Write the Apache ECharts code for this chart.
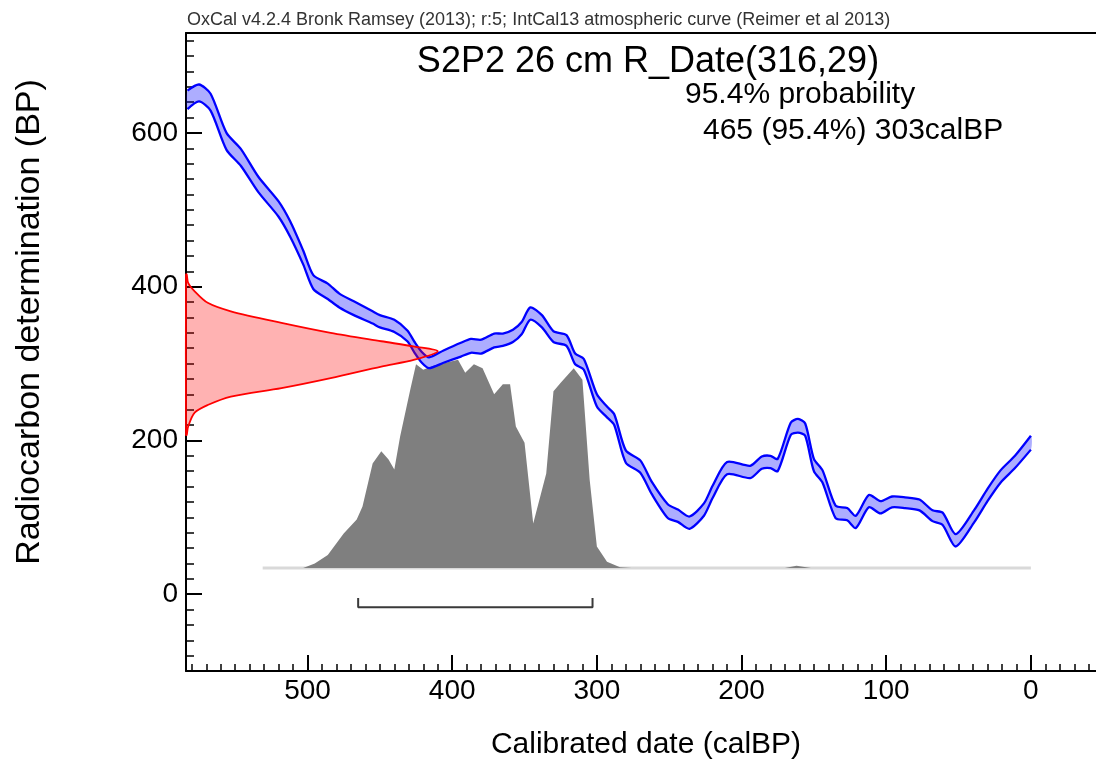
<!DOCTYPE html>
<html>
<head>
<meta charset="utf-8">
<script src="https://cdn.jsdelivr.net/npm/echarts@6/dist/echarts.min.js"></script>
<style>
  html, body { margin: 0; padding: 0; background: #fff; }
  #chart { width: 1096px; height: 765px; }
</style>
</head>
<body>
<div id="chart"></div>
<script>
// IntCal13 curve band: calBP and upper / lower radiocarbon age (BP)
const curveCal = [583, 575, 567, 556, 546, 534, 520, 512, 503, 496, 486, 478, 468, 455, 450, 440, 431, 426, 421, 416,
  406, 394, 387, 380, 371, 365, 358, 352, 346, 338, 330, 321, 315, 309, 300, 293, 288, 280, 270, 262,
  251, 244, 236, 226, 220, 210, 194, 186, 180, 175, 166, 161, 156, 150, 144, 135, 127, 121, 112, 104,
  96, 87, 77, 68, 61, 52, 39, 30, 21, 11, 0];
const curveHi = [655, 663, 651, 600, 579, 543, 511, 485, 447, 415, 404, 391, 381, 368, 363, 357, 343, 328, 315, 308,
  317, 327, 332, 331, 339, 339, 344, 354, 373, 363, 342, 337, 313, 306, 260, 244, 234, 187, 174, 146,
  117, 110, 101, 118, 141, 172, 167, 179, 180, 176, 223, 228, 222, 176, 161, 115, 112, 102, 129, 121,
  127, 126, 123, 109, 106, 78, 110, 137, 161, 180, 206];
const curveLo = [631, 641, 629, 578, 557, 523, 491, 465, 429, 397, 384, 373, 363, 352, 347, 341, 329, 314, 301, 294,
  301, 309, 314, 313, 321, 323, 328, 338, 357, 347, 328, 323, 299, 292, 244, 230, 220, 171, 158, 130,
  99, 94, 85, 102, 125, 156, 151, 163, 164, 160, 207, 210, 206, 160, 145, 99, 96, 86, 113, 105,
  113, 112, 109, 95, 90, 62, 94, 121, 145, 164, 188];

// R_Date(316,29) likelihood, drawn out from the y axis (BP level -> calBP reached)
const rdBP = [416, 405, 394, 379, 368, 353, 340, 329, 322, 316, 305, 296, 281, 268, 257, 246, 236, 218, 207];
const rdReach = [583.5, 582.5, 578, 569, 553, 518, 484, 449, 426, 410, 426, 449, 484, 518, 553, 569, 578, 582.5, 583.5];

// calibrated probability (outline height on the BP scale)
const probCal = [503, 495, 486, 475, 466, 462, 455, 449, 444, 440, 436, 429, 425, 420, 413, 396, 391, 385, 379, 371,
  365, 360, 356, 350, 344, 335, 330, 325, 316, 310, 305, 300, 293, 284, 276];
const probTop = [34, 40, 51, 79, 97, 114, 170, 186, 175, 162, 205, 266, 299, 292, 297, 305, 288, 299, 294, 260,
  273, 273, 218, 197, 92, 157, 264, 275, 294, 279, 149, 62, 42, 35, 34];
const bumpCal = [170, 162, 152];
const bumpTop = [34, 37, 34];
const probBase = 34;
const baseCal = [531, 0];

// 95.4% range
const rangeFrom = 465;
const rangeTo = 303;

const xLabels = [500, 400, 300, 200, 100, 0];
const yLabels = [0, 200, 400, 600];
const xMinor = [];
for (let v = -40; v <= 580; v += 10) xMinor.push(v);
const yMinor = [];
for (let v = -80; v <= 720; v += 20) yMinor.push(v);

const X_MIN = -45, X_MAX = 584, Y_MIN = -100, Y_MAX = 730;
const FONT = "'Liberation Sans', Arial, sans-serif";
const SMOOTH = 0.25;

const chart = echarts.init(document.getElementById("chart"));

// one custom item that draws a shape from data points through the axes
const shapeSeries = (build, z) => ({
  type: "custom",
  coordinateSystem: "cartesian2d",
  xAxisIndex: 0,
  yAxisIndex: 0,
  silent: true,
  z: z,
  data: [[0, 0]],
  renderItem: (params, api) => build(api),
});

const hiPts = curveCal.map((c, i) => [c, curveHi[i]]);
const loPts = curveCal.map((c, i) => [c, curveLo[i]]);
const rdPts = [[X_MAX, rdBP[0]]]
  .concat(rdBP.map((b, i) => [rdReach[i], b]))
  .concat([[X_MAX, rdBP[rdBP.length - 1]]]);
const probPts = probCal.map((c, i) => [c, probTop[i]]);
const bumpPts = bumpCal.map((c, i) => [c, bumpTop[i]]);

const xBase = { type: "value", min: X_MIN, max: X_MAX, inverse: true, splitLine: { show: false } };
const yBase = { type: "value", min: Y_MIN, max: Y_MAX, splitLine: { show: false } };
const blk = { color: "#000", width: 2 };

const options = {
  animation: false,
  grid: { left: 186, right: 0, top: 33, bottom: 94 },
  xAxis: [
    Object.assign({}, xBase, {
      position: "bottom",
      axisLine: { onZero: false, lineStyle: blk },
      axisTick: { inside: true, length: 16, customValues: xLabels, lineStyle: blk },
      axisLabel: { customValues: xLabels, margin: 6, fontSize: 28, color: "#000", fontFamily: FONT },
    }),
    Object.assign({}, xBase, {
      position: "bottom",
      axisLine: { show: false, onZero: false },
      axisTick: { inside: true, length: 7, customValues: xMinor, lineStyle: { color: "#000", width: 1.5 } },
      axisLabel: { show: false },
    }),
    Object.assign({}, xBase, {
      position: "top",
      axisLine: { onZero: false, lineStyle: blk },
      axisTick: { show: false },
      axisLabel: { show: false },
    }),
  ],
  yAxis: [
    Object.assign({}, yBase, {
      position: "left",
      axisLine: { show: true, onZero: false, lineStyle: blk },
      axisTick: { show: true, inside: true, length: 16, customValues: yLabels, lineStyle: blk },
      axisLabel: { customValues: yLabels, margin: 8, fontSize: 28, color: "#000", fontFamily: FONT },
    }),
    Object.assign({}, yBase, {
      position: "left",
      axisLine: { show: false, onZero: false },
      axisTick: { show: true, inside: true, length: 8, customValues: yMinor, lineStyle: { color: "#000", width: 1.5 } },
      axisLabel: { show: false },
    }),
  ],
  series: [
    {
      type: "line",
      data: baseCal.map((c) => [c, probBase]),
      symbol: "none",
      lineStyle: { color: "#d9d9d9", width: 3 },
      z: 1,
    },
    shapeSeries((api) => ({
      type: "group",
      children: [
        { type: "polygon", shape: { points: probPts.map((p) => api.coord(p)) }, style: { fill: "#7f7f7f" } },
        { type: "polygon", shape: { points: bumpPts.map((p) => api.coord(p)) }, style: { fill: "#7f7f7f" } },
      ],
    }), 2),
    shapeSeries((api) => {
      const hi = hiPts.map((p) => api.coord(p));
      const lo = loPts.map((p) => api.coord(p));
      const band = hi.concat(lo.slice().reverse());
      return {
        type: "group",
        children: [
          { type: "polygon", shape: { points: band, smooth: SMOOTH }, style: { fill: "rgba(0,0,255,0.32)" } },
          { type: "polyline", shape: { points: hi, smooth: SMOOTH }, style: { stroke: "#0000ff", lineWidth: 2.3, fill: null } },
          { type: "polyline", shape: { points: lo, smooth: SMOOTH }, style: { stroke: "#0000ff", lineWidth: 2.3, fill: null } },
        ],
      };
    }, 3),
    shapeSeries((api) => ({
      type: "polygon",
      shape: { points: rdPts.map((p) => api.coord(p)), smooth: 0.3 },
      style: { fill: "rgba(255,0,0,0.3)", stroke: "#ff0000", lineWidth: 1.8 },
    }), 5),
    {
      type: "line",
      data: [[rangeFrom, -5], [rangeFrom, -17], [rangeTo, -17], [rangeTo, -5]],
      symbol: "none",
      lineStyle: { color: "#3a3a3a", width: 2 },
      z: 5,
    },
  ],
  graphic: [
    {
      type: "text", left: 187, top: 11,
      style: { text: "OxCal v4.2.4 Bronk Ramsey (2013); r:5; IntCal13 atmospheric curve (Reimer et al 2013)",
        fontSize: 18, fill: "#333", fontFamily: FONT },
    },
    {
      type: "text", x: 648, y: 62,
      style: { text: "S2P2 26 cm R_Date(316,29)", fontSize: 36, fill: "#000", fontFamily: FONT,
        align: "center", verticalAlign: "middle" },
    },
    {
      type: "text", x: 685, y: 95,
      style: { text: "95.4% probability", fontSize: 30, fill: "#000", fontFamily: FONT, verticalAlign: "middle" },
    },
    {
      type: "text", x: 703, y: 131,
      style: { text: "465 (95.4%) 303calBP", fontSize: 30, fill: "#000", fontFamily: FONT, verticalAlign: "middle" },
    },
    {
      type: "text", x: 646, y: 745,
      style: { text: "Calibrated date (calBP)", fontSize: 30, fill: "#000", fontFamily: FONT,
        align: "center", verticalAlign: "middle" },
    },
    {
      type: "text", x: 30, y: 322, rotation: Math.PI / 2,
      style: { text: "Radiocarbon determination (BP)", fontSize: 34, fill: "#000", fontFamily: FONT,
        align: "center", verticalAlign: "middle" },
    },
  ],
};

chart.setOption(options);
</script>
</body>
</html>
